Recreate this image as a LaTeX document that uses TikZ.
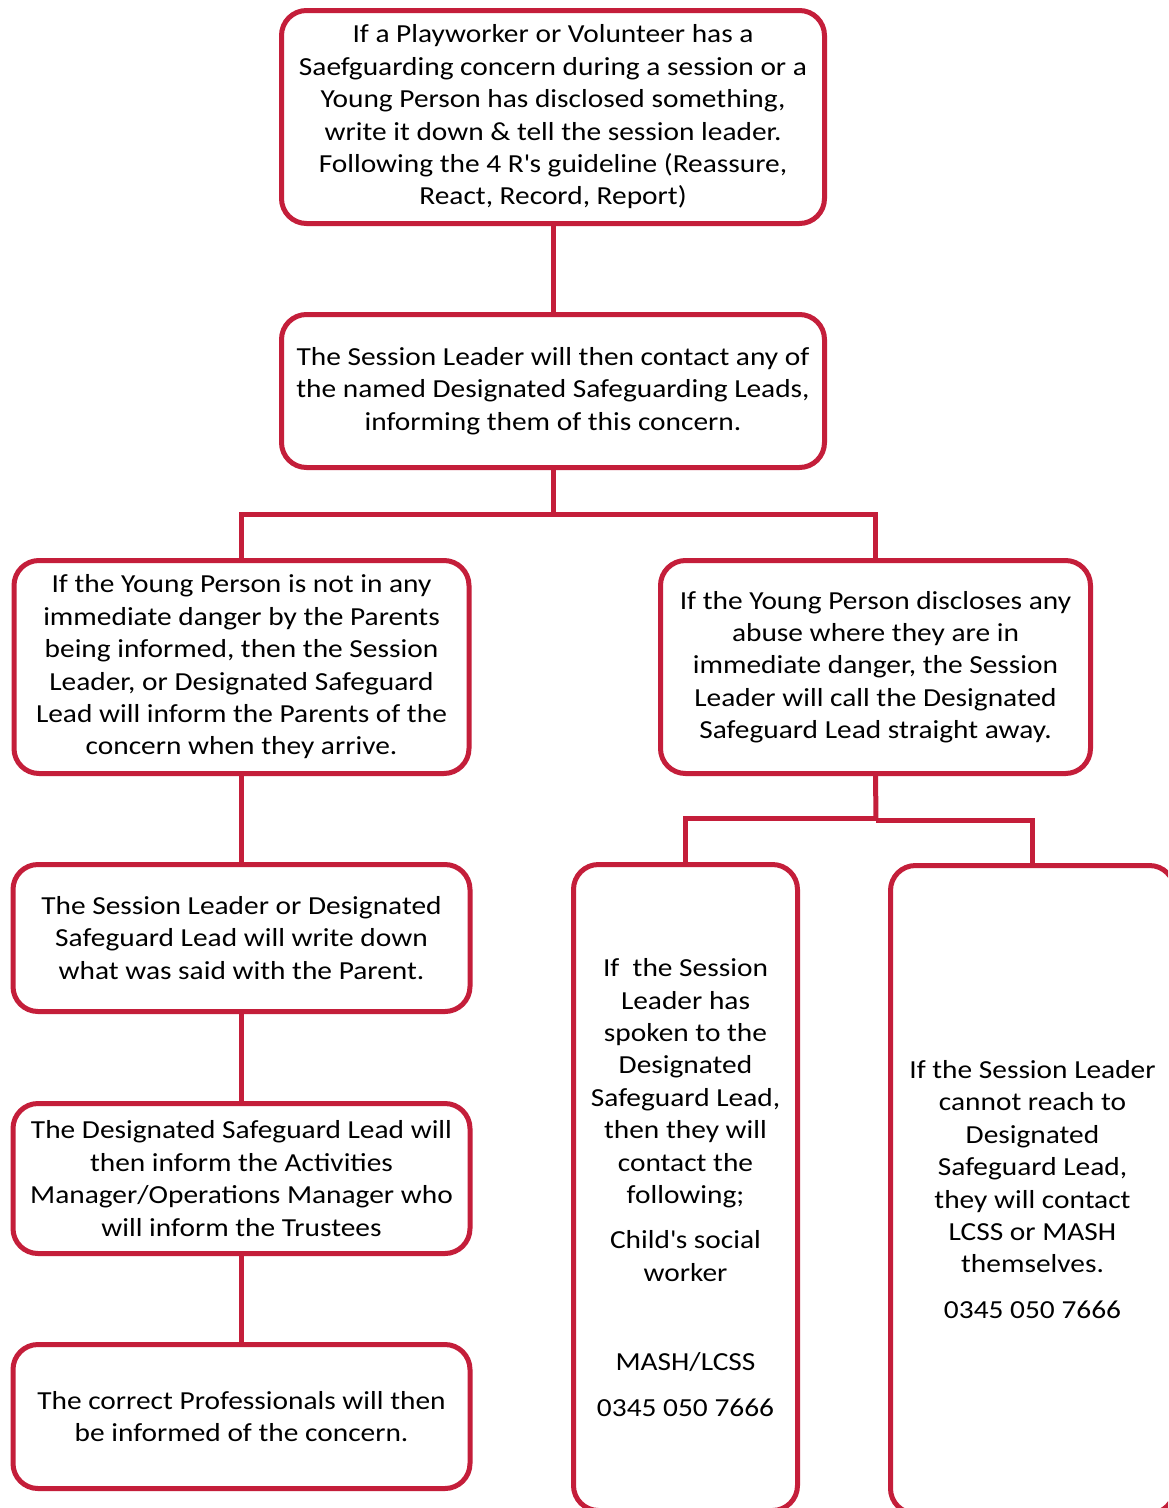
\documentclass[tikz,border=0pt]{standalone}
\usepackage{fontspec}
\setmainfont{Carlito}[FakeStretch=1.13]
\definecolor{sgred}{RGB}{196,30,58}
\begin{document}
\begin{tikzpicture}[x=1pt,y=-1pt,
  box/.style={draw=sgred, line width=5pt, rounded corners=25pt, fill=white,
    inner sep=0pt, outer sep=0pt, align=center, text=black,
    font=\fontsize{26}{32.4}\selectfont},
  link/.style={draw=sgred, line width=5pt}]
\useasboundingbox (0,0) rectangle (1168,1508);
\fill[white] (0,0) rectangle (1168,1508);
\clip (0,0) rectangle (1168,1508);

\node[box, minimum width=543pt, minimum height=213pt] (b1) at (553,117)
 {If a Playworker or Volunteer has a\\ Saefguarding concern during a session or a\\ Young Person has disclosed something,\\ write it down \& tell the session leader.\\ Following the 4 R\textquotesingle s guideline (Reassure,\\ React, Record, Report)};

\node[box, minimum width=543pt, minimum height=153pt] (b2) at (553,391)
 {The Session Leader will then contact any of\\ the named Designated Safeguarding Leads,\\ informing them of this concern.};

\node[box, minimum width=455pt, minimum height=213pt] (b3l) at (241.5,667)
 {If the Young Person is not in any\\ immediate danger by the Parents\\ being informed, then the Session\\ Leader, or Designated Safeguard\\ Lead will inform the Parents of the\\ concern when they arrive.};

\node[box, minimum width=430pt, minimum height=213pt] (b3r) at (875.5,667)
 {If the Young Person discloses any\\ abuse where they are in\\ immediate danger, the Session\\ Leader will call the Designated\\ Safeguard Lead straight away.};

\node[box, minimum width=457pt, minimum height=147pt] (b4) at (241.5,938)
 {The Session Leader or Designated\\ Safeguard Lead will write down\\ what was said with the Parent.};

\node[box, minimum width=457pt, minimum height=150pt] (b5) at (241.5,1178.5)
 {The Designated Safeguard Lead will\\ then inform the Activities\\ Manager/Operations Manager who\\ will inform the Trustees};

\node[box, minimum width=457pt, minimum height=144pt] (b6) at (241.5,1416.5)
 {The correct Professionals will then\\ be informed of the concern.};

\node[box, minimum width=224pt, minimum height=646pt] (bm) at (685.5,1187.5)
 {If\ \ the Session\\ Leader has\\ spoken to the\\ Designated\\ Safeguard Lead,\\ then they will\\ contact the\\ following;\\[13pt] Child\textquotesingle s social\\ worker\\[57pt] MASH/LCSS\\[13pt] 0345 050 7666};

\node[box, minimum width=284pt, minimum height=648pt] (br) at (1032.5,1189.5)
 {If the Session Leader\\ cannot reach to\\ Designated\\ Safeguard Lead,\\ they will contact\\ LCSS or MASH\\ themselves.\\[13pt] 0345 050 7666};

\coordinate (j1) at (553,514);
\coordinate (j2) at (876,818.5);
\coordinate (j3) at (876,820.5);

\draw[link] (b1.south) -- (b2.north);
\draw[link] (b2.south) -- (j1);
\draw[link] (b3l.north) |- (j1) -| (b3r.north);
\draw[link] (b3l.south) -- (b4.north);
\draw[link] (b4.south) -- (b5.north);
\draw[link] (b5.south) -- (b6.north);
\draw[link] (b3r.south) -- (j3);
\draw[link] (bm.north) |- (j2);
\draw[link] (j3) -| (br.north);
\end{tikzpicture}
\end{document}
